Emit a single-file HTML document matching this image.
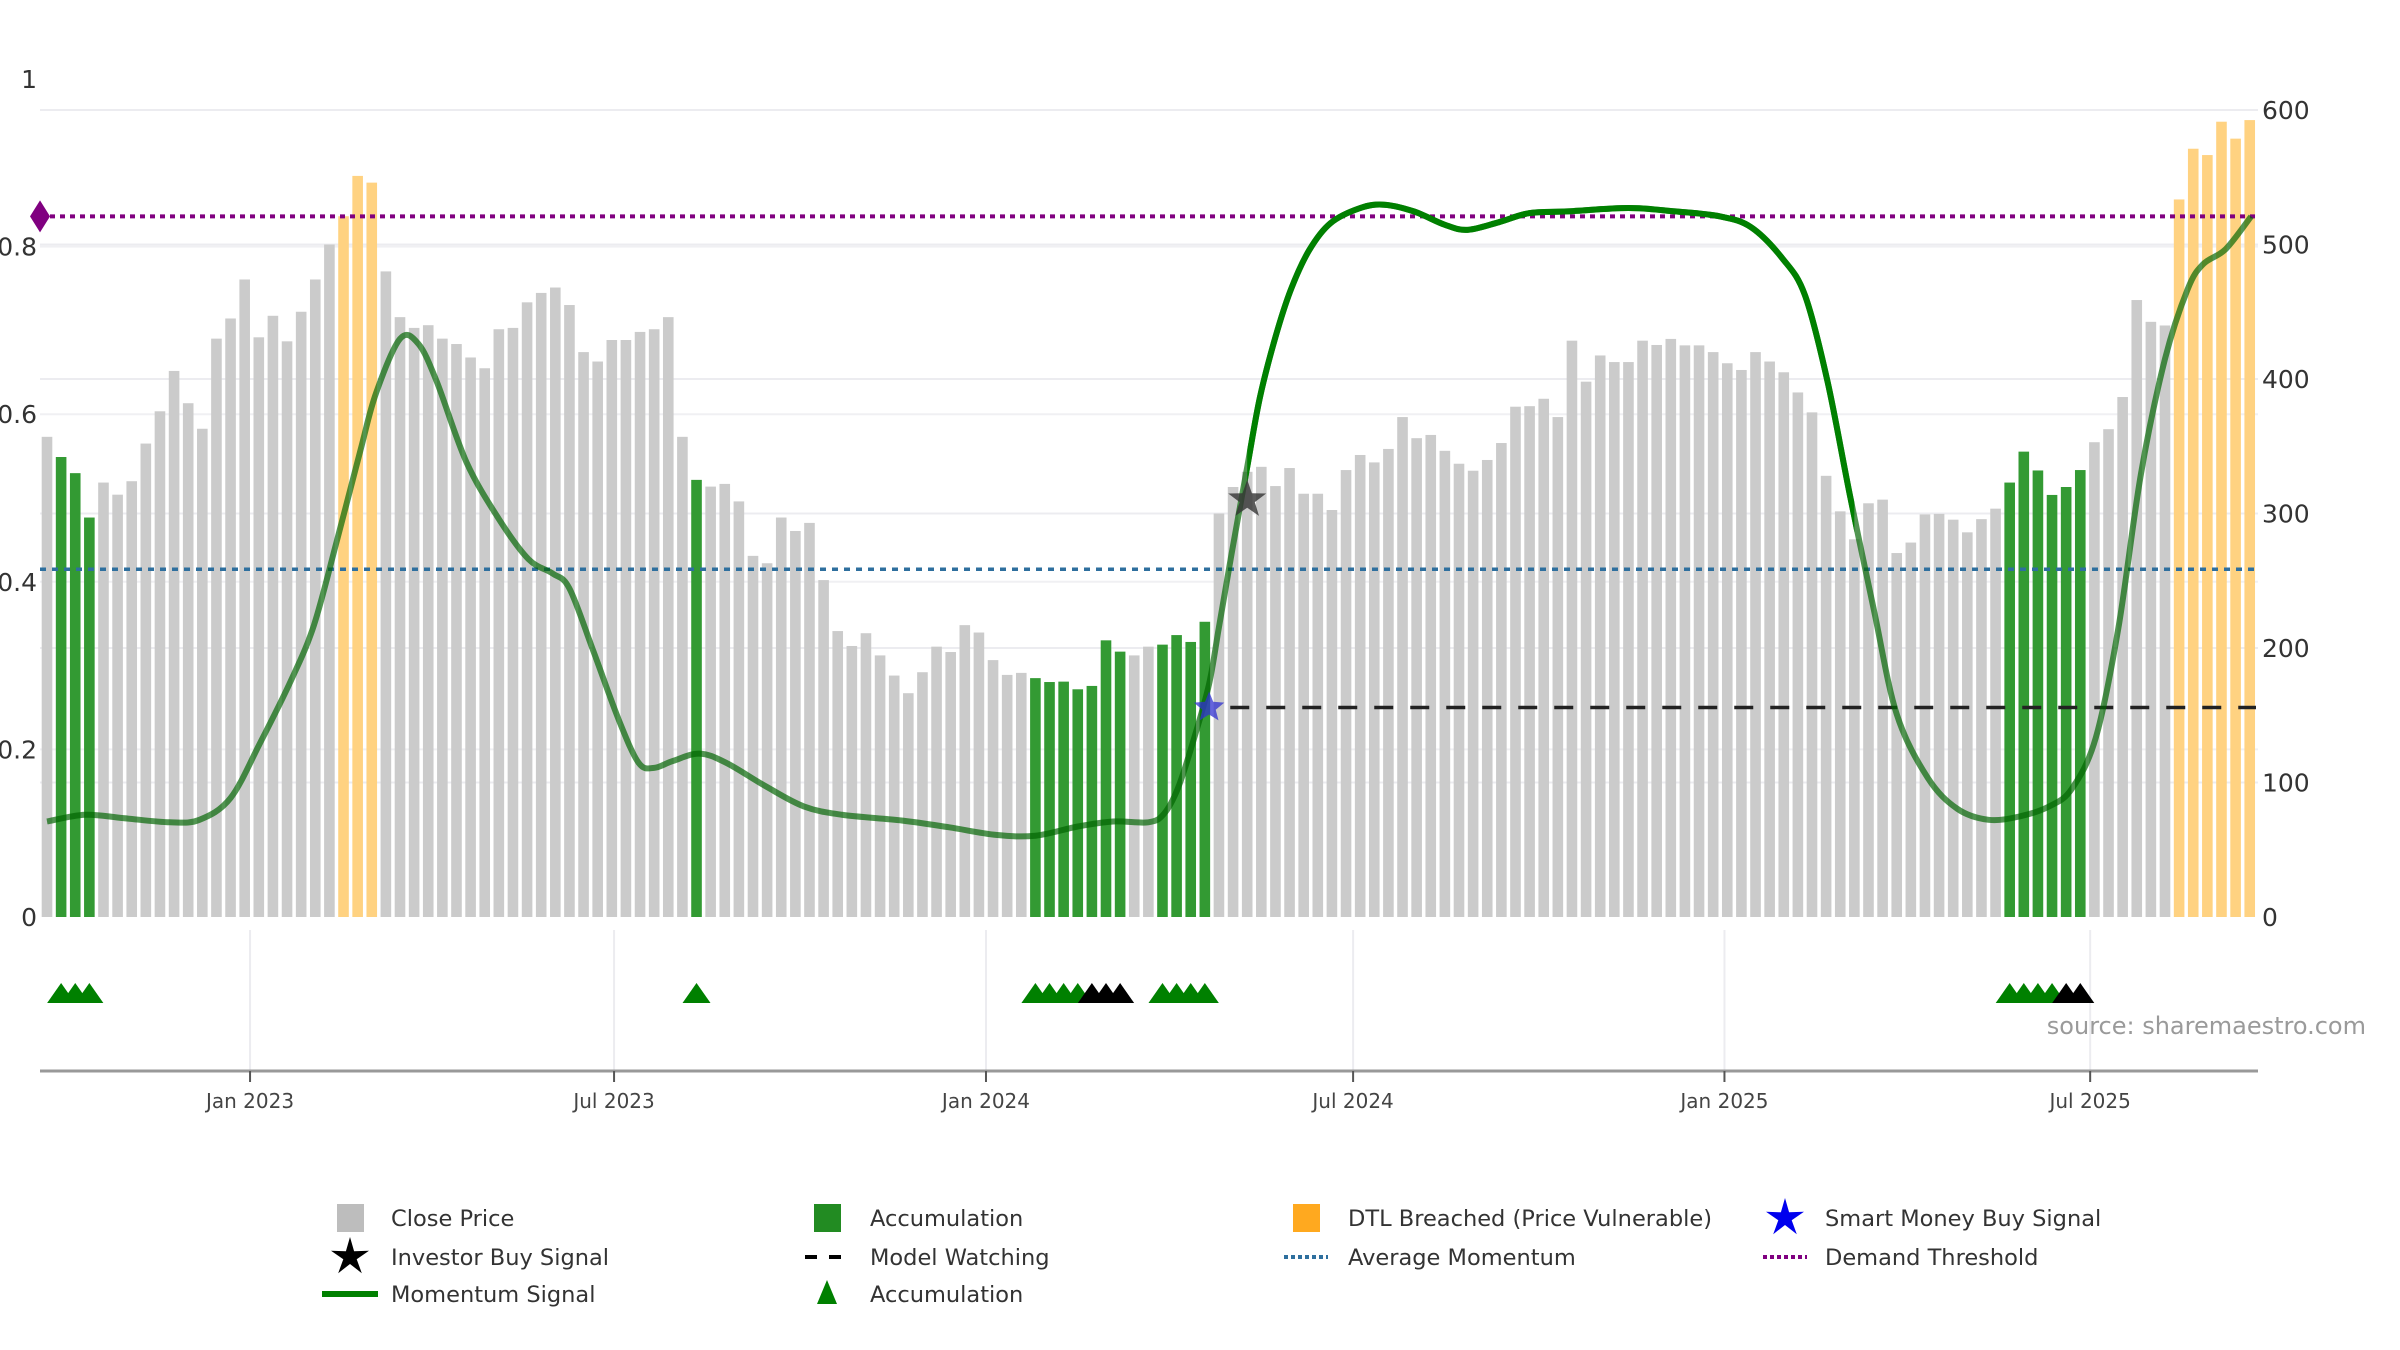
<!DOCTYPE html>
<html><head><meta charset="utf-8">
<style>
html,body{margin:0;padding:0;background:#fff;}
svg{display:block;font-family:"DejaVu Sans","Liberation Sans",sans-serif;}
</style></head>
<body>
<svg id="chart" xmlns="http://www.w3.org/2000/svg" width="2400" height="1350" viewBox="0 0 2400 1350">
  <rect x="0" y="0" width="2400" height="1350" fill="#fff"/>
  <g id="grid"></g>
  <g id="bars"></g>
  <g id="lines"></g>
  <g id="mom"></g>
  <g id="markers"></g>
  <g id="lower"></g>
  <g id="axes"></g>
  <text x="2366" y="1034" text-anchor="end" font-size="24" fill="#9a9a9a">source: sharemaestro.com</text>
  <g id="legend"></g>
</svg>
<script>
const prices = [357,342,330,297,323,314,324,352,376,406,382,363,430,445,474,431,447,428,450,474,500,521,551,546,480,446,438,440,430,426,416,408,437,438,457,464,468,455,420,413,429,429,435,437,446,357,
325,320,322,309,268.5,263,297,287,293,250.5,212.6,201.5,211,194.5,179.5,166.4,182,201,197,217,211.5,191,180,181.5,177.6,174.7,175,169.3,171.8,205.7,197.3,194.5,201,202.5,209.6,204.5,219.5,
300,319.7,331,334.7,320.4,333.8,314.7,314.7,302.6,332.3,343.5,338,348,371.7,356,358.4,346.6,337,331.8,339.8,352.4,379.4,379.8,385.3,371.7,428.5,398,417.5,412.6,412.6,428.5,425.3,429.8,425,425,420,411.7,406.7,420,413,405,390,
375.2,328,301.6,280.8,307.6,310.3,270.6,278.4,299.3,299.7,295.4,286,295.8,303.6,323,346,332,313.8,319.7,332.3,353,362.7,386.6,458.7,442.5,439.8,533.5,571.2,566.5,591.3,578.7,592.5];
const barTypes = ("c"+"ggg"+"c".repeat(17)+"ooo"+"c".repeat(22)+"g"+"c".repeat(23)+"g".repeat(7)+"cc"+"gggg"+"c".repeat(56)+"g".repeat(6)+"c".repeat(6)+"o".repeat(6)).split("");
const momIdx = [0,2.7,5.4,8.7,10.8,13.0,15.1,17.3,18.9,20.5,22.2,23.3,25.0,26.3,27.6,29.7,32.0,34.1,35.8,37.0,38.7,40.5,41.9,43.0,44.3,46.2,48.1,50.9,53.6,56.3,60.6,63.9,67.2,70.0,73.0,75.5,78.0,79.1,80.1,81.2,82.3,83.0,83.9,85.0,85.9,87.0,88.1,89.4,90.9,93.0,94.7,96.8,99.0,100.6,102.8,105.0,107.7,112.0,115.3,118.5,120.7,122.9,124.5,126.1,127.7,129.4,131.0,133.2,135.3,137.5,139.7,141.8,143.4,145.1,146.7,148.3,150.0,151.6,152.7,154.3,156.1];
const momVal = [0.114,0.122,0.118,0.113,0.116,0.142,0.208,0.283,0.348,0.447,0.557,0.625,0.690,0.684,0.639,0.543,0.475,0.427,0.410,0.392,0.317,0.235,0.184,0.178,0.186,0.195,0.184,0.156,0.132,0.122,0.115,0.107,0.098,0.097,0.108,0.114,0.113,0.123,0.154,0.211,0.278,0.346,0.434,0.537,0.620,0.692,0.749,0.796,0.828,0.846,0.850,0.842,0.826,0.820,0.829,0.840,0.842,0.846,0.842,0.836,0.823,0.786,0.742,0.639,0.502,0.365,0.242,0.166,0.129,0.116,0.120,0.132,0.153,0.214,0.345,0.529,0.666,0.749,0.779,0.797,0.836];
const strongRange = [85, 128];
const demandThreshold = 0.836;
const avgMomentum = 0.415;
const modelWatching = 0.25;
const modelWatchStart = 83.8;
const smartMoneyIdx = [82.3];
const smartMoneyVal = [0.25];
const investorIdx = [85.0];
const investorVal = [0.498];
const triGreen = [1,2,3,46,70,71,72,73,79,80,81,82,139,140,141,142];
const triBlack = [74,75,76,143,144];
const leftTicks = [0,0.2,0.4,0.6,0.8,1];
const leftTickLabels = ["0","0.2","0.4","0.6","0.8","1"];
const rightTicks = [0,100,200,300,400,500,600];
const xTickIdx = [14.38,40.16,66.5,92.5,118.8,144.7];
const xTickLabels = ["Jan 2023","Jul 2023","Jan 2024","Jul 2024","Jan 2025","Jul 2025"];

const NS="http://www.w3.org/2000/svg";
const X = i => 47 + i*14.12;
const yL = v => 917 - 838*v;
const yR = p => 917 - 1.345*p;
function mk(tag, attrs, parent){const e=document.createElementNS(NS,tag);for(const k in attrs)e.setAttribute(k,attrs[k]);parent.appendChild(e);return e;}
const G=id=>document.getElementById(id);

rightTicks.slice(1).forEach(p=>{const l=mk('line',{x1:40,x2:2258,y1:yR(p),y2:yR(p),stroke:'#ececf0','stroke-width':2},G('grid'));

});
leftTicks.slice(1,5).forEach(v=>{const l=mk('line',{x1:40,x2:2258,y1:yL(v),y2:yL(v),stroke:'#f0f0f3','stroke-width':2},G('grid'));

});

const colors={c:'#cbcbcb',g:'#339a33',o:'#ffd281'};
prices.forEach((p,i)=>{const r=mk('rect',{x:X(i)-5.3,y:yR(p),width:10.6,height:917-yR(p),fill:colors[barTypes[i]]},G('bars'));

});

let l1=mk('line',{x1:40,x2:2256,y1:yL(demandThreshold),y2:yL(demandThreshold),stroke:'#800080','stroke-width':4,'stroke-dasharray':'5,5'},G('lines'));


let l2=mk('line',{x1:40,x2:2256,y1:yL(avgMomentum),y2:yL(avgMomentum),stroke:'#2e6f9e','stroke-width':3.5,'stroke-dasharray':'6,6'},G('lines'));


let l3=mk('line',{x1:X(modelWatchStart),x2:2256,y1:yL(modelWatching),y2:yL(modelWatching),stroke:'#222','stroke-width':3.5,'stroke-dasharray':'19,17'},G('lines'));


let dm=mk('polygon',{points:`30,${yL(demandThreshold)} 40,${yL(demandThreshold)-16} 50,${yL(demandThreshold)} 40,${yL(demandThreshold)+16}`,fill:'#800080'},G('lines'));



const pts=momIdx.map((x,i)=>[X(x),yL(momVal[i])]);
let d=`M${pts[0][0]},${pts[0][1]}`;
for(let i=0;i<pts.length-1;i++){const p0=pts[Math.max(0,i-1)],p1=pts[i],p2=pts[i+1],p3=pts[Math.min(pts.length-1,i+2)];
d+=` C${p1[0]+(p2[0]-p0[0])/6},${p1[1]+(p2[1]-p0[1])/6} ${p2[0]-(p3[0]-p1[0])/6},${p2[1]-(p3[1]-p1[1])/6} ${p2[0]},${p2[1]}`;}
const defs=mk('defs',{},G('mom'));
const cp=mk('clipPath',{id:'strongClip'},defs);
mk('rect',{x:X(strongRange[0]),y:0,width:X(strongRange[1])-X(strongRange[0]),height:1350},cp);
let m1=mk('path',{d:d,fill:'none',stroke:'#006400','stroke-opacity':0.68,'stroke-width':6,'stroke-linejoin':'round'},G('mom'));


let m2=mk('path',{d:d,fill:'none',stroke:'#008000','stroke-width':6,'clip-path':'url(#strongClip)'},G('mom'));



function starPts(cx,cy,R,r){let s=[];for(let k=0;k<10;k++){const a=-Math.PI/2+k*Math.PI/5;const rr=k%2?r:R;s.push((cx+rr*Math.cos(a)).toFixed(1)+','+(cy+rr*Math.sin(a)).toFixed(1));}return s.join(' ');}
smartMoneyIdx.forEach((x,i)=>{const s=mk('polygon',{points:starPts(X(x),yL(smartMoneyVal[i]),16,7),fill:'#3030d0','fill-opacity':0.75},G('markers'));

});
investorIdx.forEach((x,i)=>{const s=mk('polygon',{points:starPts(X(x),yL(investorVal[i]),20,8),fill:'#333','fill-opacity':0.8},G('markers'));

});

xTickIdx.forEach(x=>{const l=mk('line',{x1:X(x),x2:X(x),y1:930,y2:1071,stroke:'#ececf0','stroke-width':2},G('lower'));

});
function tri(i,c){const cx=X(i);const t=mk('polygon',{points:`${cx-14},1003 ${cx},983 ${cx+14},1003`,fill:c},G('lower'));return t;}
triGreen.forEach(i=>{const t=tri(i,'#008000');

});
triBlack.forEach(i=>{const t=tri(i,'#000');

});

let ax=mk('line',{x1:40,x2:2258,y1:1071,y2:1071,stroke:'#999','stroke-width':3},G('axes'));


xTickIdx.forEach((x,i)=>{const t=mk('line',{x1:X(x),x2:X(x),y1:1071,y2:1082,stroke:'#555','stroke-width':2},G('axes'));


const tx=mk('text',{x:X(x),y:1108,'text-anchor':'middle','font-size':20,fill:'#444'},G('axes'));tx.textContent=xTickLabels[i];

});
leftTicks.forEach((v,i)=>{const t=mk('text',{x:37,y:yL(v)+9,'text-anchor':'end','font-size':25,fill:'#333'},G('axes'));t.textContent=leftTickLabels[i];

});
rightTicks.forEach(p=>{const t=mk('text',{x:2262,y:yR(p)+9,'text-anchor':'start','font-size':25,fill:'#333'},G('axes'));t.textContent=String(p);

});

const lg=G('legend');
const items=[
 {c:0,r:0,t:'Close Price',k:'sq',col:'#bdbdbd'},
 {c:1,r:0,t:'Accumulation',k:'sq',col:'#228b22'},
 {c:2,r:0,t:'DTL Breached (Price Vulnerable)',k:'sq',col:'#ffa91f'},
 {c:3,r:0,t:'Smart Money Buy Signal',k:'star',col:'#0000ee'},
 {c:0,r:1,t:'Investor Buy Signal',k:'star',col:'#000'},
 {c:1,r:1,t:'Model Watching',k:'dash',col:'#000'},
 {c:2,r:1,t:'Average Momentum',k:'dot',col:'#2e6f9e'},
 {c:3,r:1,t:'Demand Threshold',k:'dot',col:'#800080'},
 {c:0,r:2,t:'Momentum Signal',k:'line',col:'#008000'},
 {c:1,r:2,t:'Accumulation',k:'tri',col:'#008000'}];
const colIcon=[350,827,1306,1785], colText=[391,870,1348,1825], rowY=[1218,1257,1294];
items.forEach(it=>{const g=mk('g',{},lg);


const cx=colIcon[it.c],cy=rowY[it.r];
if(it.k==='sq')mk('rect',{x:cx-13,y:cy-14,width:27,height:28,fill:it.col},g);
if(it.k==='star')mk('polygon',{points:starPts(cx,cy,20,7),fill:it.col},g);
if(it.k==='dash')mk('line',{x1:cx-22,x2:cx+22,y1:cy,y2:cy,stroke:it.col,'stroke-width':4,'stroke-dasharray':'12,12'},g);
if(it.k==='dot')mk('line',{x1:cx-22,x2:cx+22,y1:cy,y2:cy,stroke:it.col,'stroke-width':4,'stroke-dasharray':'4,3'},g);
if(it.k==='line')mk('line',{x1:cx-28,x2:cx+28,y1:cy,y2:cy,stroke:it.col,'stroke-width':6},g);
if(it.k==='tri')mk('polygon',{points:`${cx-10},${cy+10} ${cx},${cy-14} ${cx+10},${cy+10}`,fill:it.col},g);
const t=mk('text',{x:colText[it.c],y:cy+8,'font-size':22.5,fill:'#333'},g);t.textContent=it.t;});
</script>
</body></html>
